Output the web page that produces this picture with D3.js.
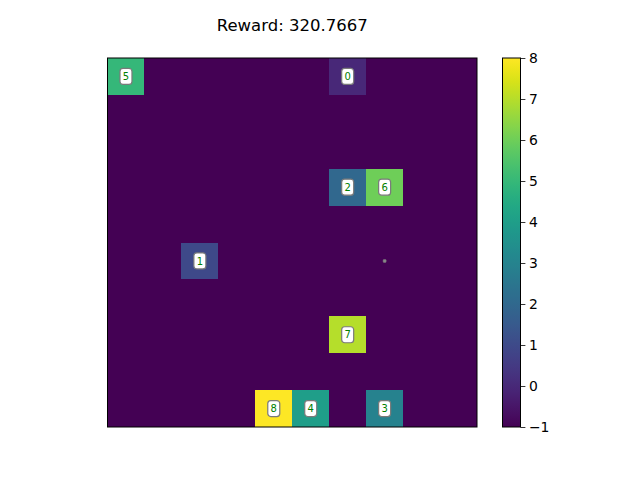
<!DOCTYPE html>
<html><head><meta charset="utf-8">
<script src="https://cdn.jsdelivr.net/npm/d3@7"></script>
<style>body{margin:0;background:#fff}svg{display:block}text{font-family:"DejaVu Sans",sans-serif}</style>
</head><body><svg id="c" width="640" height="480"></svg>
<script>
const titleText = "Reward: 320.7667";
const gridValues = [
  [5,-1,-1,-1,-1,-1,0,-1,-1,-1],
  [-1,-1,-1,-1,-1,-1,-1,-1,-1,-1],
  [-1,-1,-1,-1,-1,-1,-1,-1,-1,-1],
  [-1,-1,-1,-1,-1,-1,2,6,-1,-1],
  [-1,-1,-1,-1,-1,-1,-1,-1,-1,-1],
  [-1,-1,1,-1,-1,-1,-1,-1,-1,-1],
  [-1,-1,-1,-1,-1,-1,-1,-1,-1,-1],
  [-1,-1,-1,-1,-1,-1,7,-1,-1,-1],
  [-1,-1,-1,-1,-1,-1,-1,-1,-1,-1],
  [-1,-1,-1,-1,8,4,-1,3,-1,-1]
];
const labelRows = [0,0,3,3,5,5,7,9,9,9];
const labelCols = [0,6,6,7,2,7,6,4,5,7];
const labelTexts = ["5","0","2","6","1","","7","8","4","3"];
const colorTicks = [-1,0,1,2,3,4,5,6,7,8];

const svg = d3.select("#c");
const ax = {x0:107.5, x1:477, y0:58, y1:427};
const n = gridValues.length;
const x = d3.scaleBand().domain(d3.range(n)).range([ax.x0, ax.x1]).padding(0);
const y = d3.scaleBand().domain(d3.range(n)).range([ax.y0, ax.y1]).padding(0);
const cnorm = d3.scaleLinear().domain([-1,8]).range([0,1]);
const color = v => d3.interpolateViridis(cnorm(v));

const cells = [];
gridValues.forEach((row,r)=>row.forEach((v,c)=>cells.push({r,c,v})));
svg.append("g").selectAll("rect").data(cells).join("rect")
  .attr("x",d=>x(d.c)).attr("y",d=>y(d.r))
  .attr("width",x.bandwidth()+0.4).attr("height",y.bandwidth()+0.4)
  .attr("fill",d=>color(d.v)).attr("shape-rendering","crispEdges");

svg.append("rect").attr("x",ax.x0).attr("y",ax.y0)
  .attr("width",ax.x1-ax.x0).attr("height",ax.y1-ax.y0)
  .attr("fill","none").attr("stroke","#000").attr("stroke-width",1);

// labels
const labels = labelTexts.map((t,i)=>({t, r:labelRows[i], c:labelCols[i]}));
const lg = svg.append("g").selectAll("g").data(labels).join("g")
  .attr("transform",d=>`translate(${x(d.c)+x.bandwidth()/2},${y(d.r)+y.bandwidth()/2})`);
lg.append("rect")
  .attr("x",d=>d.t? -6 : -1.5).attr("y",d=>d.t? -8 : -1.5)
  .attr("width",d=>d.t?12:3).attr("height",d=>d.t?16:3)
  .attr("rx",d=>d.t?3:0.8)
  .attr("fill",d=>d.t?"#fff":"#888").attr("stroke","#7a7a7a").attr("stroke-width",d=>d.t?1.2:0.5);
lg.append("text").text(d=>d.t)
  .attr("text-anchor","middle").attr("dy","0.36em")
  .attr("font-size",10).attr("fill","green");

// title
svg.append("text").attr("x",(ax.x0+ax.x1)/2).attr("y",31)
  .attr("text-anchor","middle").attr("font-size",16.5).attr("fill","#000").text(titleText);

// colorbar
const cb = {x0:502.5, x1:520.5, y0:58, y1:427};
const cy = d3.scaleLinear().domain([-1,8]).range([cb.y1, cb.y0]);
const grad = svg.append("defs").append("linearGradient").attr("id","vir")
  .attr("x1","0").attr("y1","1").attr("x2","0").attr("y2","0");
grad.selectAll("stop").data(d3.range(0,33)).join("stop")
  .attr("offset",i=>i/32).attr("stop-color",i=>d3.interpolateViridis(i/32));
svg.append("rect").attr("x",cb.x0).attr("y",cy(8))
  .attr("width",cb.x1-cb.x0).attr("height",cy(-1)-cy(8))
  .attr("fill","url(#vir)").attr("stroke","#000").attr("stroke-width",1);
const axis = d3.axisRight(cy).tickValues(colorTicks).tickSize(4.9).tickPadding(3.5)
  .tickFormat(d=>d<0? "\u2212"+Math.abs(d) : String(d));
const ag = svg.append("g").attr("transform",`translate(${cb.x1},0)`).call(axis);
ag.select(".domain").remove();
ag.selectAll("text").attr("font-size",13.9).attr("font-family","DejaVu Sans").attr("fill","#000");
ag.selectAll("line").attr("stroke","#000").attr("stroke-width",0.8);
</script></body></html>
